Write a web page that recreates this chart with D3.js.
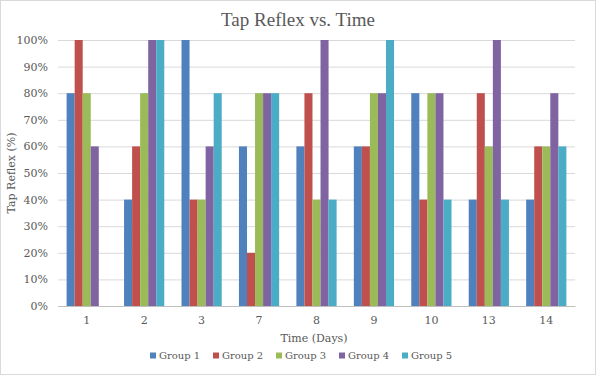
<!DOCTYPE html>
<html>
<head>
<meta charset="utf-8">
<script src="https://cdn.jsdelivr.net/npm/d3@7"></script>
<style>
  body { margin: 0; background: #fff; }
  svg { display: block; }
  .tick text { font-family: "DejaVu Serif", serif; fill: #595959; }
</style>
</head>
<body>
<svg width="596" height="375"></svg>
<script>
// chart data
let days = ['1', '2', '3', '7', '8', '9', '10', '13', '14'];
let groups = ['Group 1', 'Group 2', 'Group 3', 'Group 4', 'Group 5'];
let group1 = [80, 40, 100, 60, 60, 60, 80, 40, 40];
let group2 = [100, 60, 40, 20, 80, 60, 40, 80, 60];
let group3 = [80, 80, 40, 80, 40, 80, 80, 60, 60];
let group4 = [60, 100, 60, 80, 100, 80, 80, 100, 80];
let group5 = [0, 100, 80, 80, 40, 100, 40, 40, 60];
let yTicks = [0, 10, 20, 30, 40, 50, 60, 70, 80, 90, 100];
let colors = ['#4F81BD', '#C0504D', '#9BBB59', '#8064A2', '#4BACC6'];

let series = [group1, group2, group3, group4, group5];

let svg = d3.select('svg');
let plotLeft = 58, plotRight = 575, plotTop = 40, plotBottom = 306;

// chart border
svg.append('rect')
	.attr('x', 0.5).attr('y', 0.5)
	.attr('width', 595).attr('height', 374)
	.attr('fill', '#fff').attr('stroke', '#d9d9d9');

let xScale = d3.scaleBand().domain(days).range([plotLeft, plotRight]).paddingInner(0.3).paddingOuter(0.15);
let inner = d3.scaleBand().domain(groups).range([0, xScale.bandwidth()]);
let yScale = d3.scaleLinear().domain([0, 100]).range([plotBottom, plotTop]);

// gridlines + y axis
let yAxis = svg.append('g')
	.attr('transform', 'translate(' + plotLeft + ',0)')
	.call(d3.axisLeft(yScale).tickValues(yTicks).tickSize(-(plotRight - plotLeft)).tickPadding(10)
		.tickFormat(function(d) { return d + '%'; }));
yAxis.select('.domain').remove();
yAxis.selectAll('.tick line').attr('stroke', '#d9d9d9');
yAxis.selectAll('.tick text').attr('font-size', 11);

// bars
svg.append('g').selectAll('g')
	.data(series).enter().append('g')
	.attr('fill', function(d, i) { return colors[i]; })
	.each(function(vals, i) {
		d3.select(this).selectAll('rect').data(vals).enter().append('rect')
			.attr('x', function(v, j) { return xScale(days[j]) + inner(groups[i]); })
			.attr('y', function(v) { return yScale(v); })
			.attr('width', inner.bandwidth())
			.attr('height', function(v) { return plotBottom - yScale(v); });
	});

// x axis
let xAxis = svg.append('g')
	.attr('transform', 'translate(0,' + plotBottom + ')')
	.call(d3.axisBottom(xScale).tickSize(0).tickPadding(10));
xAxis.select('.domain').attr('stroke', '#bfbfbf');
xAxis.selectAll('.tick text').attr('font-size', 11);

// title
svg.append('text')
	.attr('x', 298).attr('y', 26)
	.attr('text-anchor', 'middle')
	.attr('font-family', 'Liberation Serif, serif')
	.attr('font-size', 19)
	.attr('fill', '#595959')
	.text('Tap Reflex vs. Time');

// axis titles
svg.append('text')
	.attr('transform', 'translate(15,' + ((plotTop + plotBottom) / 2) + ') rotate(-90)')
	.attr('text-anchor', 'middle')
	.attr('font-family', 'DejaVu Serif, serif')
	.attr('font-size', 11)
	.attr('fill', '#595959')
	.text('Tap Reflex (%)');

svg.append('text')
	.attr('x', 314).attr('y', 342)
	.attr('text-anchor', 'middle')
	.attr('font-family', 'DejaVu Serif, serif')
	.attr('font-size', 11)
	.attr('fill', '#595959')
	.text('Time (Days)');

// legend
let legend = svg.append('g').selectAll('g')
	.data(groups).enter().append('g')
	.attr('transform', function(d, i) { return 'translate(' + (150 + i * 63) + ',352.5)'; });
legend.append('rect')
	.attr('width', 6).attr('height', 6)
	.attr('fill', function(d, i) { return colors[i]; });
legend.append('text')
	.attr('x', 9).attr('y', 6.5)
	.attr('font-family', 'DejaVu Serif, serif')
	.attr('font-size', 10)
	.attr('fill', '#595959')
	.text(function(d) { return d; });
</script>
</body>
</html>
